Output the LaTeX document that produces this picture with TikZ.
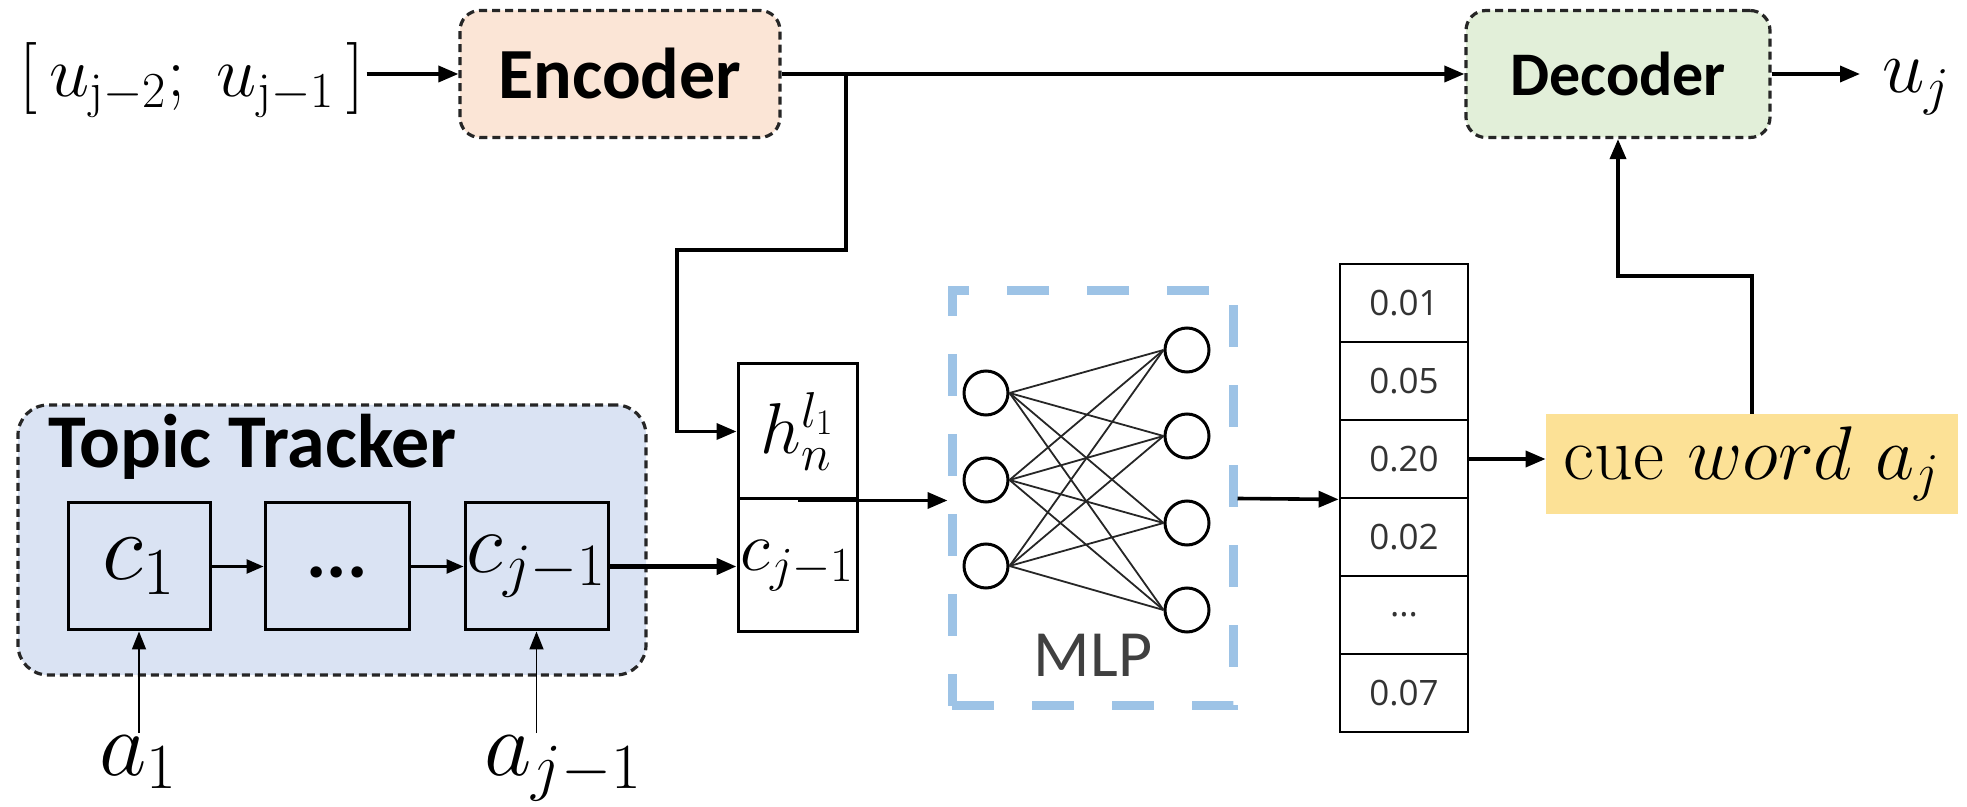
\RequirePackage{fix-cm}
\documentclass[tikz,border=0pt]{standalone}
\usepackage{fontspec}
\newfontfamily\calfont{Carlito}
\newfontfamily\osfont{Open Sans}
\usetikzlibrary{arrows.meta}
\definecolor{encfill}{RGB}{251,229,214}
\definecolor{decfill}{RGB}{226,239,217}
\definecolor{ttfill}{RGB}{218,227,243}
\definecolor{mlpblue}{RGB}{157,195,230}
\definecolor{cuefill}{RGB}{252,225,150}
\newcommand{\myfs}[1]{\fontsize{#1}{#1}\selectfont}
\tikzset{
  arr/.style={line width=1.8pt,-{Triangle[length=10pt,width=8pt]}},
  midarr/.style={line width=1.3pt,-{Triangle[length=8.5pt,width=7pt]}},
  thinarr/.style={line width=0.9pt,-{Triangle[length=9pt,width=7pt]}},
  dashbox/.style={draw=black!85,line width=1.6pt,dash pattern=on 4pt off 2.5pt,rounded corners=10pt},
  hdbox/.style={dashbox,minimum height=63.5pt,inner sep=0pt},
  plainbox/.style={draw,line width=1.5pt,inner sep=0pt},
  cell/.style={draw,line width=1.4pt,minimum width=64pt,minimum height=39pt,inner sep=0pt,font=\osfont\myfs{17.5},text=black!80},
  neuron/.style={circle,draw,line width=1.5pt,minimum size=22pt,inner sep=0pt},
  lab/.style={inner sep=1pt},
}
\begin{document}
\begin{tikzpicture}[x=0.5pt,y=-0.5pt]
\useasboundingbox (0,0) rectangle (1967,807);
% top row
\node[hdbox,fill=encfill,minimum width=160pt,font=\calfont\bfseries\myfs{36}] (enc) at (620,74) {Encoder};
\node[hdbox,fill=decfill,minimum width=152pt,font=\calfont\bfseries\myfs{31}] (dec) at (1618,74) {Decoder};
\node[lab,anchor=base,font=\myfs{36}] (in) at (192,97) {$[\,u_{\mathrm{j}-2};\; u_{\mathrm{j}-1}\,]$};
\node[lab,anchor=base west,inner xsep=11pt,font=\myfs{38}] (uj) at (1860,93) {$u_j$};
\draw[arr] (enc.west -| in.east) -- (enc.west);
\draw[arr] (enc.east) -- (dec.west);
\draw[arr] (dec.east) -- (dec.east -| uj.west);
% topic tracker
\node[dashbox,fill=ttfill,rounded corners=15pt,minimum width=314pt,minimum height=135pt,inner sep=0pt] (tt) at (332,540) {};
\node[lab,anchor=base west,font=\calfont\bfseries\myfs{38}] (tttitle) at (46,468) {Topic Tracker};
\node[plainbox,minimum width=71pt,minimum height=63.5pt,font=\myfs{48}] (c1) at (139,566.5) {$c_1$};
\node[plainbox,minimum width=72pt,minimum height=63.5pt] (dots) at (337,566.5) {};
\node[lab,anchor=base,font=\calfont\bfseries\myfs{38}] (dotstxt) at (dots.center |- 0,578) {...};
\node[plainbox,minimum width=71.5pt,minimum height=63.5pt,font=\myfs{43}] (cj) at (536.5,566.5) {$c_{j-1}$};
\draw[midarr] (c1.east) -- (dots.west);
\draw[midarr] (dots.west -| dots.east) -- (cj.west);
\node[lab,anchor=north,font=\myfs{46}] (a1) at (138,733) {$a_1$};
\node[lab,anchor=north west,font=\myfs{46}] (aj) at (482,733) {$a_{j-1}$};
\draw[thinarr] (c1.south |- a1.north) -- (c1.south);
\draw[thinarr] (cj.south |- aj.north) -- (cj.south);
% h / c column
\node[plainbox,minimum width=59.5pt,minimum height=67.5pt,font=\myfs{36}] (hbox) at (797.5,431.5) {$h_n^{l_1}$};
\node[plainbox,minimum width=59.5pt,minimum height=66.5pt,font=\myfs{35}] (cbox) at (797.5,565.5) {$c_{j-1}$};
\draw[line width=2.2pt,-{Triangle[length=10pt,width=8pt]}] (cj.east) -- (cj.east -| cbox.west);
\coordinate (br) at (846,74);
\coordinate (bend) at (677,250);
\draw[arr] (br) |- (bend) |- (hbox.west);
% MLP
\node[draw=mlpblue,line width=4.5pt,dash pattern=on 21pt off 19pt,minimum width=140.5pt,minimum height=207.5pt,inner sep=0pt] (mlp) at (1092.5,498.5) {};
\node[neuron] (L1) at (986,393) {};
\node[neuron] (L2) at (986,480) {};
\node[neuron] (L3) at (986,566) {};
\node[neuron] (R1) at (1187,350) {};
\node[neuron] (R2) at (1187,436) {};
\node[neuron] (R3) at (1187,523) {};
\node[neuron] (R4) at (1187,610) {};
\foreach \i in {1,2,3}{\foreach \j in {1,2,3,4}{\draw[line width=0.9pt,black!85] (L\i.east) -- (R\j.west);}}
\node[lab,font=\calfont\myfs{33},text=black!75] (mlplab) at (1093,655) {MLP};
\draw[arr] (hbox.south) -- (hbox.south -| mlp.west);
% probability column
\node[cell] (p1) at (1404,303) {0.01};
\node[cell] (p2) at (1404,381) {0.05};
\node[cell] (p3) at (1404,459) {0.20};
\node[cell] (p4) at (1404,537) {0.02};
\node[cell] (p5) at (1404,615) {...};
\node[cell] (p6) at (1404,693) {0.07};
\draw[arr] (mlp.east) -- (p3.south west);
% cue word
\node[fill=cuefill,minimum width=206pt,minimum height=50pt,inner sep=0pt,font=\myfs{38}] (cue) at (1752,464) {cue $word\ a_j$};
\draw[arr] (p3.east) -- (p3.east -| cue.west);
\coordinate (cb) at (1618,276);
\draw[arr] (cue.north) |- (cb) -- (dec.south);
\end{tikzpicture}
\end{document}
